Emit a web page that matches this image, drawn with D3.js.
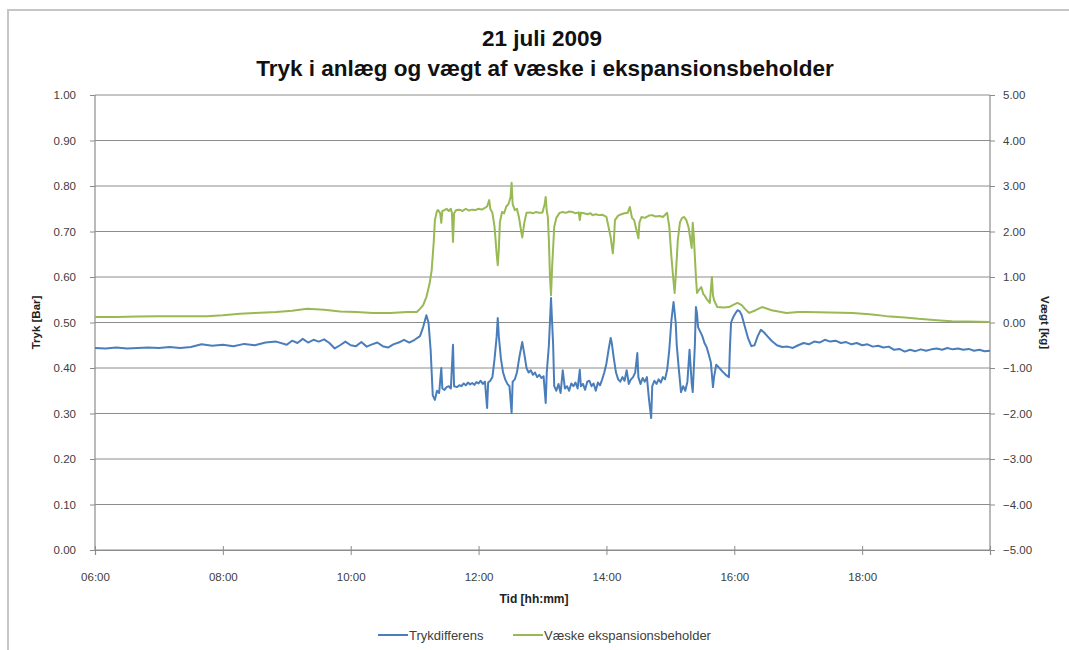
<!DOCTYPE html>
<html>
<head>
<meta charset="utf-8">
<script src="https://cdn.jsdelivr.net/npm/d3@7"></script>
<style>
  body { margin: 0; background: #fff; }
  text { font-family: "Liberation Sans", Arial, sans-serif; }
</style>
</head>
<body>
<svg id="chart"></svg>
<script>
const width = 1069;
const height = 650;

// Trykdifferens [bar] (left axis)
const trykTimes = ['06:00','06:10','06:20','06:30','06:40','06:50','07:00','07:10','07:20','07:30','07:40','07:50','08:00','08:10','08:20','08:30','08:40','08:50','09:00','09:05','09:10','09:15','09:20','09:25','09:30','09:35','09:40','09:45','09:50','09:55','10:00','10:05','10:10','10:15','10:20','10:25','10:30','10:35','10:40','10:45','10:50','10:55','11:00','11:05','11:08','11:11','11:13','11:15','11:17','11:19','11:21','11:23','11:25','11:26','11:28','11:30','11:32','11:34','11:36','11:37','11:40','11:42','11:44','11:46','11:48','11:50','11:52','11:54','11:56','11:58','12:00','12:02','12:04','12:06','12:08','12:09','12:11','12:13','12:15','12:17','12:18','12:19','12:21','12:23','12:25','12:27','12:29','12:31','12:32','12:34','12:36','12:38','12:40','12:41','12:43','12:45','12:47','12:49','12:51','12:53','12:55','12:57','12:59','13:01','13:03','13:04','13:06','13:08','13:10','13:11','13:13','13:15','13:17','13:19','13:21','13:23','13:25','13:27','13:29','13:31','13:33','13:35','13:36','13:38','13:40','13:42','13:44','13:46','13:48','13:50','13:52','13:54','13:56','13:58','14:00','14:02','14:04','14:05','14:07','14:09','14:11','14:13','14:15','14:17','14:19','14:21','14:23','14:25','14:27','14:29','14:30','14:32','14:34','14:36','14:38','14:40','14:42','14:43','14:45','14:47','14:49','14:51','14:53','14:55','14:57','14:59','15:01','15:03','15:05','15:06','15:08','15:10','15:12','15:14','15:16','15:18','15:20','15:21','15:23','15:24','15:25','15:26','15:28','15:30','15:32','15:34','15:36','15:38','15:40','15:41','15:43','15:46','15:49','15:52','15:55','15:56','15:57','15:59','16:01','16:03','16:05','16:07','16:10','16:13','16:16','16:19','16:22','16:25','16:28','16:31','16:35','16:40','16:45','16:50','16:55','17:00','17:05','17:10','17:15','17:20','17:25','17:30','17:35','17:40','17:45','17:50','17:55','18:00','18:05','18:10','18:15','18:20','18:25','18:30','18:35','18:40','18:45','18:50','18:55','19:00','19:05','19:10','19:15','19:20','19:25','19:30','19:35','19:40','19:45','19:50','19:55','20:00'];
const trykValues = [0.444,0.443,0.445,0.443,0.444,0.445,0.444,0.446,0.444,0.446,0.452,0.449,0.451,0.448,0.453,0.450,0.456,0.458,0.451,0.460,0.455,0.464,0.456,0.462,0.458,0.463,0.455,0.443,0.450,0.458,0.450,0.448,0.457,0.447,0.452,0.456,0.448,0.445,0.452,0.456,0.462,0.456,0.462,0.470,0.490,0.516,0.500,0.440,0.340,0.330,0.350,0.345,0.400,0.355,0.352,0.358,0.360,0.355,0.451,0.360,0.358,0.362,0.360,0.366,0.362,0.368,0.364,0.367,0.363,0.369,0.366,0.372,0.365,0.370,0.312,0.368,0.372,0.380,0.420,0.470,0.510,0.470,0.420,0.390,0.375,0.365,0.360,0.301,0.370,0.375,0.390,0.420,0.445,0.457,0.430,0.400,0.390,0.395,0.385,0.390,0.380,0.385,0.378,0.382,0.323,0.390,0.450,0.554,0.450,0.360,0.350,0.365,0.345,0.395,0.355,0.360,0.350,0.366,0.360,0.368,0.355,0.396,0.360,0.365,0.352,0.370,0.372,0.360,0.366,0.350,0.368,0.362,0.375,0.390,0.410,0.440,0.466,0.455,0.420,0.390,0.375,0.370,0.380,0.372,0.395,0.365,0.375,0.380,0.390,0.433,0.380,0.365,0.378,0.370,0.380,0.330,0.290,0.360,0.372,0.365,0.375,0.368,0.380,0.375,0.396,0.440,0.505,0.545,0.500,0.450,0.396,0.347,0.360,0.350,0.370,0.440,0.367,0.347,0.450,0.534,0.520,0.490,0.480,0.470,0.455,0.446,0.430,0.412,0.358,0.380,0.407,0.400,0.392,0.385,0.380,0.450,0.500,0.512,0.520,0.527,0.525,0.516,0.490,0.465,0.448,0.450,0.470,0.484,0.478,0.470,0.460,0.450,0.446,0.447,0.444,0.450,0.455,0.452,0.458,0.456,0.462,0.458,0.460,0.455,0.457,0.452,0.455,0.450,0.452,0.447,0.449,0.445,0.447,0.440,0.442,0.436,0.440,0.437,0.441,0.438,0.441,0.443,0.440,0.444,0.441,0.443,0.440,0.442,0.438,0.440,0.437,0.438];

// Væske ekspansionsbeholder [kg] (right axis)
const vaegtTimes = ['06:00','06:20','06:40','07:00','07:20','07:45','08:00','08:16','08:30','08:50','09:05','09:19','09:35','09:50','10:05','10:21','10:37','10:53','11:02','11:05','11:08','11:11','11:14','11:16','11:18','11:19','11:21','11:22','11:24','11:25','11:26','11:28','11:30','11:32','11:34','11:35','11:36','11:37','11:39','11:42','11:45','11:48','11:51','11:54','11:57','12:00','12:03','12:06','12:08','12:10','12:11','12:13','12:15','12:17','12:18','12:19','12:20','12:22','12:24','12:26','12:28','12:30','12:31','12:32','12:34','12:36','12:38','12:40','12:41','12:43','12:45','12:48','12:51','12:54','12:57','13:00','13:02','13:03','13:04','13:05','13:06','13:07','13:08','13:09','13:11','13:13','13:16','13:19','13:22','13:25','13:28','13:31','13:34','13:35','13:36','13:39','13:42','13:45','13:47','13:50','13:53','13:56','14:00','14:02','14:04','14:06','14:07','14:08','14:11','14:14','14:17','14:20','14:22','14:24','14:26','14:28','14:30','14:31','14:33','14:36','14:40','14:43','14:46','14:50','14:53','14:57','14:59','15:01','15:03','15:04','15:05','15:07','15:09','15:11','15:13','15:15','15:17','15:19','15:20','15:21','15:22','15:24','15:25','15:27','15:29','15:31','15:32','15:34','15:37','15:39','15:40','15:41','15:44','15:50','15:55','16:00','16:03','16:07','16:10','16:14','16:20','16:26','16:35','16:49','17:00','17:08','17:30','17:51','18:07','18:23','18:40','18:53','19:10','19:24','19:40','20:00'];
const vaegtValues = [0.12,0.12,0.13,0.14,0.14,0.14,0.16,0.19,0.21,0.23,0.26,0.30,0.28,0.24,0.23,0.21,0.21,0.23,0.23,0.30,0.38,0.56,0.85,1.15,1.80,2.25,2.45,2.47,2.40,2.19,2.45,2.47,2.50,2.45,2.50,2.40,1.77,2.40,2.47,2.48,2.45,2.50,2.46,2.48,2.47,2.50,2.48,2.52,2.55,2.69,2.50,2.41,2.10,1.50,1.26,1.60,2.20,2.43,2.40,2.55,2.60,2.75,3.07,2.60,2.47,2.50,2.30,2.00,1.87,2.20,2.41,2.42,2.40,2.43,2.41,2.42,2.60,2.76,2.45,2.32,1.80,1.00,0.60,1.20,2.10,2.30,2.41,2.43,2.41,2.44,2.43,2.40,2.42,2.25,2.41,2.40,2.38,2.40,2.36,2.38,2.36,2.37,2.32,2.10,1.87,1.52,1.80,2.25,2.35,2.38,2.40,2.41,2.54,2.30,2.25,2.05,1.85,2.20,2.32,2.30,2.35,2.36,2.33,2.34,2.32,2.41,2.10,1.44,0.90,0.65,1.00,1.81,2.20,2.30,2.32,2.25,2.10,1.80,1.64,2.19,1.90,1.00,0.65,0.72,0.78,0.62,0.60,0.52,0.43,1.00,0.60,0.49,0.34,0.33,0.34,0.40,0.43,0.38,0.30,0.21,0.27,0.34,0.27,0.21,0.23,0.23,0.22,0.21,0.18,0.14,0.11,0.08,0.05,0.03,0.02,0.01];

const xTickLabels = ['06:00','08:00','10:00','12:00','14:00','16:00','18:00'];
const leftTicks = [0,0.1,0.2,0.3,0.4,0.5,0.6,0.7,0.8,0.9,1.0];
const rightTicks = [-5,-4,-3,-2,-1,0,1,2,3,4,5];
const seriesNames = ['Trykdifferens', 'Væske ekspansionsbeholder'];
const seriesColors = ['#4a7ebb', '#98b954'];

const margin = {top: 95, right: 79, bottom: 100, left: 95};
const parseTime = d3.timeParse('%H:%M');
const fmtTime = d3.timeFormat('%H:%M');

const svg = d3.select('#chart')
  .attr('width', width)
  .attr('height', height);

// outer chart frame
svg.append('path')
  .attr('d', `M8,${height} L8,10 L${width},10`)
  .attr('fill', 'none')
  .attr('stroke', '#c6c6c6')
  .attr('stroke-width', 2);

const x = d3.scaleTime()
  .domain([parseTime('06:00'), parseTime('20:00')])
  .range([margin.left, width - margin.right]);

const yLeft = d3.scaleLinear()
  .domain([0, 1])
  .range([height - margin.bottom, margin.top]);

const yRight = d3.scaleLinear()
  .domain([-5, 5])
  .range([height - margin.bottom, margin.top]);

// gridlines
svg.append('g')
  .selectAll('line')
  .data(leftTicks)
  .enter()
  .append('line')
    .attr('x1', margin.left)
    .attr('x2', width - margin.right)
    .attr('y1', d => yLeft(d))
    .attr('y2', d => yLeft(d))
    .attr('stroke', '#8c8c8c')
    .attr('stroke-width', 1);

// left axis
const leftAxis = svg.append('g')
  .attr('transform', `translate(${margin.left},0)`)
  .call(d3.axisLeft(yLeft).tickValues(leftTicks).tickFormat(d3.format('.2f')).tickSize(5).tickPadding(14));

// right axis
const rightAxis = svg.append('g')
  .attr('transform', `translate(${width - margin.right},0)`)
  .call(d3.axisRight(yRight).tickValues(rightTicks).tickFormat(d3.format('.2f')).tickSize(5).tickPadding(8));

// x axis
const xAxis = svg.append('g')
  .attr('transform', `translate(0,${height - margin.bottom})`)
  .call(d3.axisBottom(x)
    .tickValues(xTickLabels.map(parseTime).concat([parseTime('20:00')]))
    .tickFormat(d => xTickLabels.indexOf(fmtTime(d)) >= 0 ? fmtTime(d) : '')
    .tickSize(5)
    .tickPadding(18));

xAxis.selectAll('.tick line').attr('y1', -4);

[leftAxis, rightAxis, xAxis].forEach(g => {
  g.select('.domain').attr('stroke', '#8c8c8c').attr('stroke-width', 1.2);
  g.selectAll('.tick line').attr('stroke', '#8c8c8c');
  g.selectAll('.tick text')
    .attr('fill', '#404040')
    .style('font-size', '11.5px')
    .style('font-family', '"Liberation Sans", Arial, sans-serif');
});
leftAxis.select('.domain').attr('d', `M0,${margin.top}V${height - margin.bottom}`);
rightAxis.select('.domain').attr('d', `M0,${margin.top}V${height - margin.bottom}`);

// lines
const trykData = trykTimes.map((t, i) => ({t: parseTime(t), v: trykValues[i]}));
const vaegtData = vaegtTimes.map((t, i) => ({t: parseTime(t), v: vaegtValues[i]}));

svg.append('path')
  .datum(vaegtData)
  .attr('fill', 'none')
  .attr('stroke', seriesColors[1])
  .attr('stroke-width', 2)
  .attr('stroke-linejoin', 'round')
  .attr('d', d3.line().x(d => x(d.t)).y(d => yRight(d.v)));

svg.append('path')
  .datum(trykData)
  .attr('fill', 'none')
  .attr('stroke', seriesColors[0])
  .attr('stroke-width', 2)
  .attr('stroke-linejoin', 'round')
  .attr('d', d3.line().x(d => x(d.t)).y(d => yLeft(d.v)));

// titles
svg.append('text')
  .attr('x', 542).attr('y', 46)
  .attr('text-anchor', 'middle')
  .style('font-size', '22.5px').style('font-weight', 'bold')
  .attr('fill', '#111')
  .text('21 juli 2009');

svg.append('text')
  .attr('x', 545).attr('y', 76)
  .attr('text-anchor', 'middle')
  .style('font-size', '22.5px').style('font-weight', 'bold')
  .attr('fill', '#111')
  .text('Tryk i anlæg og vægt af væske i ekspansionsbeholder');

svg.append('text')
  .attr('transform', `translate(40,${yLeft(0.5)}) rotate(-90)`)
  .attr('text-anchor', 'middle')
  .style('font-size', '11.5px').style('font-weight', 'bold')
  .attr('fill', '#222')
  .text('Tryk [Bar]');

svg.append('text')
  .attr('transform', `translate(1041,${yRight(0)}) rotate(90)`)
  .attr('text-anchor', 'middle')
  .style('font-size', '11.5px').style('font-weight', 'bold')
  .attr('fill', '#222')
  .text('Vægt [kg]');

svg.append('text')
  .attr('x', 534).attr('y', 603)
  .attr('text-anchor', 'middle')
  .style('font-size', '12px').style('font-weight', 'bold')
  .attr('fill', '#222')
  .text('Tid [hh:mm]');

// legend
const legendX = [378, 513];
const legend = svg.append('g')
  .selectAll('g')
  .data(seriesNames)
  .enter()
  .append('g')
    .attr('transform', (d, i) => `translate(${legendX[i]},635)`);

legend.append('line')
  .attr('x1', 0).attr('x2', 30)
  .attr('stroke', (d, i) => seriesColors[i])
  .attr('stroke-width', 2);

legend.append('text')
  .attr('x', 31).attr('y', 4.5)
  .style('font-size', '13px')
  .attr('fill', '#404040')
  .text(d => d);
</script>
</body>
</html>
